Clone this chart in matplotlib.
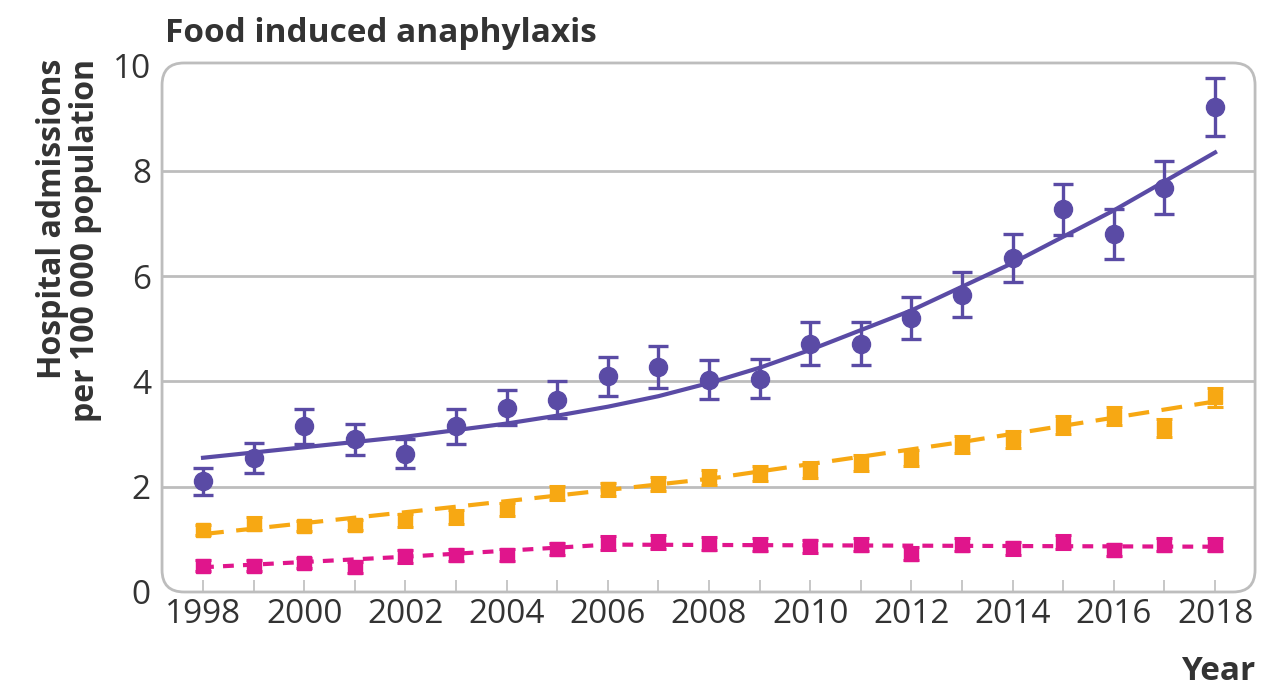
import numpy as np
import matplotlib
matplotlib.use("Agg")
import matplotlib.pyplot as plt
from matplotlib.patches import FancyBboxPatch

plt.rcParams['font.family'] = ['Open Sans', 'DejaVu Sans']

# data
years = list(range(1998, 2019))
purple_vals = [2.1, 2.55, 3.15, 2.9, 2.63, 3.15, 3.5, 3.65, 4.1, 4.27, 4.03, 4.05,
               4.72, 4.72, 5.2, 5.65, 6.35, 7.27, 6.8, 7.68, 9.22]
purple_err = [0.25, 0.28, 0.33, 0.3, 0.28, 0.33, 0.33, 0.35, 0.37, 0.4, 0.37, 0.37,
              0.4, 0.4, 0.4, 0.42, 0.46, 0.48, 0.47, 0.5, 0.55]
orange_vals = [1.18, 1.3, 1.25, 1.27, 1.36, 1.42, 1.57, 1.88, 1.95, 2.05, 2.18, 2.25,
               2.32, 2.45, 2.55, 2.8, 2.9, 3.18, 3.35, 3.12, 3.7]
orange_err = [0.1, 0.12, 0.1, 0.1, 0.12, 0.13, 0.13, 0.13, 0.13, 0.14, 0.14, 0.14,
              0.15, 0.15, 0.15, 0.16, 0.16, 0.17, 0.17, 0.17, 0.18]
magenta_vals = [0.5, 0.5, 0.55, 0.47, 0.68, 0.7, 0.7, 0.82, 0.93, 0.95, 0.92, 0.9,
                0.87, 0.9, 0.73, 0.9, 0.83, 0.95, 0.8, 0.9, 0.9]
magenta_err = [0.1, 0.1, 0.1, 0.1, 0.12, 0.12, 0.12, 0.12, 0.13, 0.13, 0.12, 0.12,
               0.12, 0.12, 0.12, 0.12, 0.12, 0.13, 0.12, 0.12, 0.12]

# fitted trend lines (joinpoint-like)
purple_fit_years = [1998, 2000, 2002, 2004, 2005, 2006, 2007, 2008, 2009, 2010, 2012, 2014, 2016, 2018]
purple_fit = [2.55, 2.75, 2.95, 3.2, 3.35, 3.52, 3.72, 3.97, 4.26, 4.6, 5.35, 6.25, 7.25, 8.35]
orange_fit_years = [1998, 2003, 2008, 2013, 2018]
orange_fit = [1.1, 1.62, 2.15, 2.85, 3.62]
magenta_fit_years = [1998, 2002, 2006, 2012, 2018]
magenta_fit = [0.47, 0.67, 0.9, 0.88, 0.86]

purple = '#5a4ba5'
orange = '#f7a813'
magenta = '#e0158c'
grid_c = '#bdbdbd'
text_c = '#333333'

fig = plt.figure(figsize=(12.62, 6.89), dpi=100)
ax = fig.add_axes([0.1284, 0.1408, 0.8661, 0.7678])
ax.set_facecolor('none')

# rounded frame
W, H = 1262, 689
frame = FancyBboxPatch((0.1284, 0.1408), 0.8661, 0.7678,
                       boxstyle="round,pad=0,rounding_size=%f" % (22 / W),
                       mutation_aspect=W / H, transform=fig.transFigure,
                       facecolor='white', edgecolor=grid_c, linewidth=2, zorder=0,
                       clip_on=False)
ax.add_patch(frame)

for s in ax.spines.values():
    s.set_visible(False)

ax.set_xlim(1997.19, 2018.79)
ax.set_ylim(0, 10.05)

for g in [2, 4, 6, 8]:
    ax.axhline(g, color=grid_c, linewidth=2, zorder=1)

ax.plot(purple_fit_years, purple_fit, color=purple, linewidth=3, zorder=3)
ax.errorbar(years, purple_vals, yerr=purple_err, fmt='o', color=purple, markersize=13,
            elinewidth=2.4, capsize=7, capthick=2.4, zorder=4)

ax.plot(orange_fit_years, orange_fit, color=orange, linewidth=3, dashes=(5, 3), zorder=3)
ax.errorbar(years, orange_vals, yerr=orange_err, fmt='s', color=orange, markersize=10.5,
            elinewidth=2.2, capsize=6, capthick=2.2, zorder=4)

ax.plot(magenta_fit_years, magenta_fit, color=magenta, linewidth=3, dashes=(2.6, 2.2), zorder=3)
ax.errorbar(years, magenta_vals, yerr=magenta_err, fmt='s', color=magenta, markersize=10.5,
            elinewidth=2.2, capsize=6, capthick=2.2, zorder=4)

ax.set_xticks(range(1998, 2019, 2))
ax.set_xticks(range(1999, 2019, 2), minor=True)
ax.tick_params(axis='x', which='both', direction='in', length=9, width=1.2, color=grid_c,
               labelsize=24, labelcolor=text_c, pad=4)
ax.set_yticks([0, 2, 4, 6, 8, 10])
ax.tick_params(axis='y', length=0, labelsize=24, labelcolor=text_c, pad=8)

fig.text(0.055, 0.915, "Hospital admissions\nper 100 000 population", fontsize=23,
         fontweight='bold', color=text_c, rotation=90, va='top', ha='center',
         multialignment='right', linespacing=1.0)
fig.text(0.131, 0.952, "Food induced anaphylaxis", fontsize=24, fontweight='bold',
         color=text_c, va='center', ha='left')
fig.text(0.995, 0.025, "Year", fontsize=24, fontweight='bold', color=text_c,
         va='center', ha='right')

fig.savefig("out.png", dpi=100)
